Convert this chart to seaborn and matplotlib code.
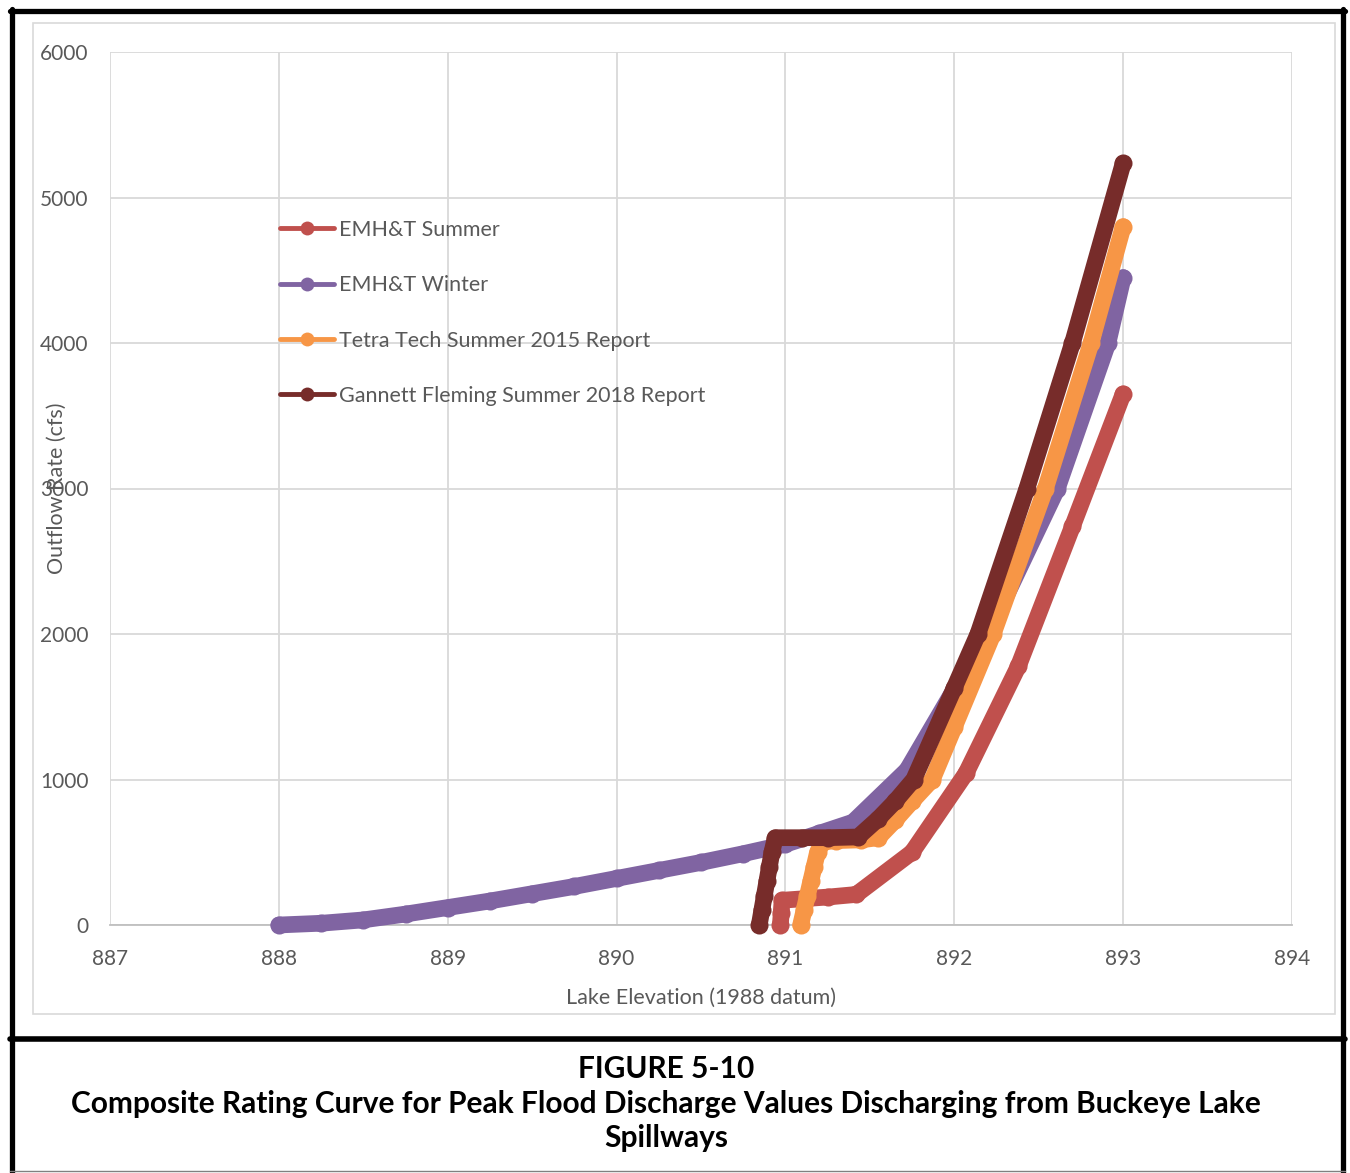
import numpy as np
import pandas as pd
import seaborn as sns
import matplotlib.pyplot as plt
from matplotlib.lines import Line2D
from matplotlib.patches import Rectangle

# Rating curve data (lake elevation ft, outflow cfs)
emht_summer_x = [890.97, 890.975, 890.98, 891.1, 891.25, 891.42, 891.75, 892.07, 892.38, 892.70, 893.0]
emht_summer_y = [0, 85, 170, 180, 192, 210, 500, 1044, 1780, 2740, 3650]

emht_winter_x = [888.0, 888.25, 888.5, 888.75, 889.0, 889.25, 889.5, 889.75, 890.0, 890.25,
                 890.5, 890.75, 891.0, 891.2, 891.4, 891.72, 892.0, 892.2, 892.61, 892.91, 893.0]
emht_winter_y = [0, 12, 35, 75, 120, 165, 215, 265, 320, 375,
                 430, 490, 555, 630, 707, 1065, 1620, 2000, 3000, 4000, 4450]

tetra_x = [891.09, 891.11, 891.13, 891.15, 891.17, 891.19, 891.22, 891.3, 891.45, 891.55,
           891.65, 891.75, 891.87, 892.0, 892.23, 892.54, 892.81, 893.0]
tetra_y = [0, 100, 200, 300, 400, 500, 570, 580, 585, 600,
           720, 850, 1000, 1360, 2000, 3000, 4000, 4800]

gannett_x = [890.845, 890.86, 890.875, 890.89, 890.905, 890.92, 890.94, 891.1, 891.25, 891.43,
             891.55, 891.65, 891.76, 892.0, 892.14, 892.43, 892.70, 893.0]
gannett_y = [0, 100, 200, 300, 400, 500, 600, 600, 600, 605,
             730, 850, 1000, 1630, 2000, 3000, 4000, 5235]

series_names = ['EMH&T Summer', 'EMH&T Winter', 'Tetra Tech Summer 2015 Report',
                'Gannett Fleming Summer 2018 Report']
series_colors = ['#C0504D', '#8064A2', '#F79646', '#772C2A']
series_x = [emht_summer_x, emht_winter_x, tetra_x, gannett_x]
series_y = [emht_summer_y, emht_winter_y, tetra_y, gannett_y]

x_ticks = [887, 888, 889, 890, 891, 892, 893, 894]
y_ticks = [0, 1000, 2000, 3000, 4000, 5000, 6000]

caption_lines = ['FIGURE 5-10',
                 'Composite Rating Curve for Peak Flood Discharge Values Discharging from Buckeye Lake',
                 'Spillways']

sns.set_theme(style='white')
plt.rcParams['font.family'] = ['Lato', 'DejaVu Sans']

W, H = 1350, 1173
fig = plt.figure(figsize=(W / 100, H / 100), dpi=100)
fig.patch.set_facecolor('white')


def fx(px):
    return px / W


def fy(py):
    return 1 - py / H


ax = fig.add_axes([fx(110), fy(925), fx(1292) - fx(110), fy(52) - fy(925)])

for name, color, xs, ys in zip(series_names, series_colors, series_x, series_y):
    df = pd.DataFrame({'elev': xs, 'flow': ys})
    sns.lineplot(data=df, x='elev', y='flow', sort=False, estimator=None, ax=ax,
                 color=color, linewidth=12, marker='o', markersize=13,
                 markeredgewidth=0, clip_on=False, zorder=3, legend=False)

# thick Excel-style bands
for ln in ax.lines:
    ln.set_linewidth(12)
    ln.set_markersize(13)
    ln.set_solid_joinstyle('round')
    ln.set_solid_capstyle('round')

ax.set_xlim(887, 894)
ax.set_ylim(0, 6000)
ax.set_xticks(x_ticks)
ax.set_yticks(y_ticks)
ax.grid(True, color='#D9D9D9', linewidth=1.3)
ax.set_axisbelow(True)
for s in ['top', 'right', 'left']:
    ax.spines[s].set_visible(False)
ax.spines['bottom'].set_color('#BFBFBF')
ax.spines['bottom'].set_linewidth(1.3)
ax.tick_params(axis='both', length=0, labelsize=15, labelcolor='#595959')
ax.tick_params(axis='x', pad=17)
ax.tick_params(axis='y', pad=15.5)

ax.set_xlabel('Lake Elevation (1988 datum)', fontsize=15.5, color='#595959')
ax.xaxis.set_label_coords(0.5, (925 - 988) / 873)
ax.set_ylabel('Outflow Rate (cfs)', fontsize=15.5, color='#595959')
ax.yaxis.set_label_coords((67 - 110) / 1182, 0.5)

handles = [Line2D([0], [0], color=c, lw=3.5, marker='o', markersize=10, markeredgewidth=0)
           for c in series_colors]
ax.legend(handles, series_names, loc='upper left',
          bbox_to_anchor=((280 - 110) / 1182, (925 - 220) / 873),
          frameon=False, fontsize=15.5, labelcolor='#595959', borderpad=0,
          handlelength=2.5, handletextpad=0.25, labelspacing=1.64, borderaxespad=0)

# chart area border and report frame
fig.add_artist(Rectangle((fx(33), fy(1014)), fx(1335) - fx(33), fy(23) - fy(1014),
                         transform=fig.transFigure, fill=False, edgecolor='#D9D9D9', lw=1.2))
fig.add_artist(Line2D([fx(12), fx(12)], [fy(9), fy(1173)], color='black', lw=3.8,
                      transform=fig.transFigure))
fig.add_artist(Line2D([fx(1343), fx(1343)], [fy(9), fy(1173)], color='black', lw=3.8,
                      transform=fig.transFigure))
fig.add_artist(Line2D([fx(10), fx(1345)], [fy(10.5), fy(10.5)], color='black', lw=3.8,
                      transform=fig.transFigure))
fig.add_artist(Line2D([fx(10), fx(1345)], [fy(1039), fy(1039)], color='black', lw=4,
                      transform=fig.transFigure))
fig.add_artist(Line2D([fx(10), fx(1345)], [fy(1171), fy(1171)], color='#808080', lw=1,
                      transform=fig.transFigure))

for text, ypx in zip(caption_lines, [1069, 1104, 1138]):
    fig.text(fx(666), fy(ypx), text, ha='center', va='center', fontsize=21.5,
             fontweight='bold', color='black')

fig.savefig('out.png', dpi=100)
